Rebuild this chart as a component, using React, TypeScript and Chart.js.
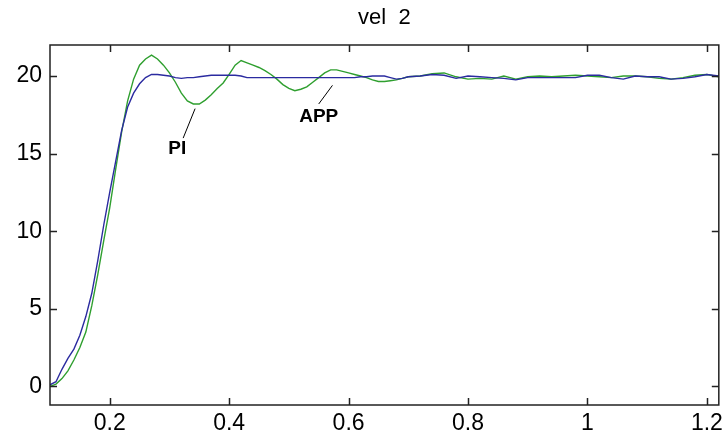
import React, { useEffect, useRef } from "react";
import { Chart, registerables } from "chart.js";

Chart.register(...registerables);

const chartTitle = "vel  2";

const time = [
  0.10, 0.11, 0.12, 0.13, 0.14, 0.15, 0.16, 0.17, 0.18, 0.19,
  0.20, 0.21, 0.22, 0.23, 0.24, 0.25, 0.26, 0.27, 0.28, 0.29,
  0.30, 0.31, 0.32, 0.33, 0.34, 0.35, 0.36, 0.37, 0.38, 0.39,
  0.40, 0.41, 0.42, 0.43, 0.44, 0.45, 0.46, 0.47, 0.48, 0.49,
  0.50, 0.51, 0.52, 0.53, 0.54, 0.55, 0.56, 0.57, 0.58, 0.59,
  0.60, 0.61, 0.62, 0.63, 0.64, 0.65, 0.66, 0.67, 0.68, 0.69,
  0.70, 0.72, 0.74, 0.76, 0.78, 0.80, 0.82, 0.84, 0.86, 0.88,
  0.90, 0.92, 0.94, 0.96, 0.98, 1.00, 1.02, 1.04, 1.06, 1.08,
  1.10, 1.12, 1.14, 1.16, 1.18, 1.20, 1.22,
];

const appValues = [
  0.1, 0.3, 1.1, 1.8, 2.4, 3.3, 4.5, 6.0, 8.1, 10.4,
  12.5, 14.5, 16.5, 18.0, 18.9, 19.5, 19.9, 20.1, 20.1, 20.05,
  20.0, 19.9, 19.85, 19.9, 19.9, 19.95, 20.0, 20.05, 20.05, 20.05,
  20.05, 20.05, 20.0, 19.9, 19.9, 19.9, 19.9, 19.9, 19.9, 19.9,
  19.9, 19.9, 19.9, 19.9, 19.9, 19.9, 19.9, 19.9, 19.9, 19.9,
  19.9, 19.9, 19.95, 19.95, 20.0, 20.0, 20.0, 19.9, 19.8, 19.85,
  19.95, 20.0, 20.1, 20.05, 19.85, 20.0, 19.95, 19.9, 19.85, 19.75,
  19.9, 19.9, 19.9, 19.9, 19.9, 20.05, 20.05, 19.9, 19.8, 20.0,
  19.95, 19.95, 19.8, 19.85, 19.95, 20.1, 20.0,
];

const piValues = [
  0.0, 0.15, 0.5, 1.0, 1.7, 2.5, 3.5, 5.2, 7.2, 9.4,
  11.5, 14.0, 16.4, 18.4, 19.8, 20.7, 21.1, 21.35, 21.1, 20.7,
  20.2, 19.6, 18.9, 18.4, 18.2, 18.2, 18.45, 18.8, 19.2, 19.55,
  20.1, 20.7, 21.0, 20.85, 20.7, 20.55, 20.35, 20.1, 19.8, 19.45,
  19.2, 19.05, 19.15, 19.3, 19.6, 19.9, 20.2, 20.4, 20.4, 20.3,
  20.2, 20.1, 20.0, 19.9, 19.75, 19.65, 19.65, 19.7, 19.75, 19.85,
  19.95, 20.0, 20.15, 20.2, 19.95, 19.8, 19.85, 19.8, 20.0, 19.8,
  19.95, 20.0, 19.95, 20.0, 20.05, 20.0, 19.95, 19.9, 20.0, 20.0,
  19.95, 19.85, 19.8, 19.9, 20.05, 20.1, 19.95,
];

const xTickValues = [0.2, 0.4, 0.6, 0.8, 1.0, 1.2];
const xTickLabels = ["0.2", "0.4", "0.6", "0.8", "1", "1.2"];
const yTickValues = [0, 5, 10, 15, 20];
const yTickLabels = ["0", "5", "10", "15", "20"];

// annotation text & leader lines, in data coordinates
const annotationLabels = ["PI", "APP"];
const annotationTextX = [0.313, 0.55];
const annotationTextY = [15.3, 17.4];
const leaderFromX = [0.323, 0.55];
const leaderFromY = [16.0, 18.2];
const leaderToX = [0.343, 0.573];
const leaderToY = [17.9, 19.4];

const FONT = "'Liberation Sans', Arial, Helvetica, sans-serif";
const TICK_SIZE = 23;

const matlabBox = {
  id: "matlabBox",
  afterDatasetsDraw(chart: any) {
    const { ctx, chartArea: a, scales } = chart;
    const xs = scales.x;
    const ys = scales.y;
    ctx.save();
    ctx.strokeStyle = "#222";
    ctx.lineWidth = 1.5;
    ctx.strokeRect(a.left, a.top, a.right - a.left, a.bottom - a.top);
    const L = 7;
    ctx.beginPath();
    for (const v of xTickValues) {
      const px = Math.round(xs.getPixelForValue(v)) + 0.5;
      ctx.moveTo(px, a.bottom);
      ctx.lineTo(px, a.bottom - L);
      ctx.moveTo(px, a.top);
      ctx.lineTo(px, a.top + L);
    }
    for (const v of yTickValues) {
      const py = Math.round(ys.getPixelForValue(v)) + 0.5;
      ctx.moveTo(a.left, py);
      ctx.lineTo(a.left + L, py);
      ctx.moveTo(a.right, py);
      ctx.lineTo(a.right - L, py);
    }
    ctx.stroke();

    ctx.lineWidth = 1;
    ctx.strokeStyle = "#000";
    ctx.beginPath();
    for (let i = 0; i < annotationLabels.length; i++) {
      ctx.moveTo(xs.getPixelForValue(leaderFromX[i]), ys.getPixelForValue(leaderFromY[i]));
      ctx.lineTo(xs.getPixelForValue(leaderToX[i]), ys.getPixelForValue(leaderToY[i]));
    }
    ctx.stroke();
    ctx.fillStyle = "#000";
    ctx.font = "bold 19px " + FONT;
    ctx.textAlign = "center";
    ctx.textBaseline = "middle";
    for (let i = 0; i < annotationLabels.length; i++) {
      ctx.fillText(
        annotationLabels[i],
        xs.getPixelForValue(annotationTextX[i]),
        ys.getPixelForValue(annotationTextY[i])
      );
    }

    // title centred over the axes, MATLAB style
    ctx.font = "22px " + FONT;
    ctx.textBaseline = "middle";
    ctx.fillText(chartTitle, (a.left + a.right) / 2, 18);
    ctx.restore();
  },
};

export default function App() {
  const canvasRef = useRef<HTMLCanvasElement | null>(null);

  useEffect(() => {
    document.body.style.margin = "0";
    const canvas = canvasRef.current;
    if (!canvas) return;
    const chart = new Chart(canvas, {
      type: "line",
      data: {
        datasets: [
          {
            label: "APP",
            data: time.map((t, i) => ({ x: t, y: appValues[i] })),
            borderColor: "#2b2ba0",
            borderWidth: 1.4,
            pointRadius: 0,
            tension: 0,
          },
          {
            label: "PI",
            data: time.map((t, i) => ({ x: t, y: piValues[i] })),
            borderColor: "#2f9f2f",
            borderWidth: 1.4,
            pointRadius: 0,
            tension: 0,
          },
        ],
      },
      options: {
        animation: false,
        responsive: false,
        devicePixelRatio: 1,
        layout: { padding: { left: 0, right: 8, top: 45, bottom: 0 } },
        plugins: {
          legend: { display: false },
          tooltip: { enabled: false },
          title: { display: false },
        },
        scales: {
          x: {
            type: "linear",
            min: 0.1,
            max: 1.22,
            afterBuildTicks: (scale: any) => {
              scale.ticks = xTickValues.map((v) => ({ value: v }));
            },
            afterFit: (scale: any) => {
              scale.height = 31;
            },
            grid: { display: false, drawTicks: false },
            border: { display: false },
            ticks: {
              color: "#000",
              padding: 5,
              maxRotation: 0,
              autoSkip: false,
              font: { family: FONT, size: TICK_SIZE },
              callback: (v: any) => {
                const i = xTickValues.findIndex((t) => Math.abs(t - Number(v)) < 1e-9);
                return i >= 0 ? xTickLabels[i] : "";
              },
            },
          },
          y: {
            type: "linear",
            min: -1.2,
            max: 22,
            afterBuildTicks: (scale: any) => {
              scale.ticks = yTickValues.map((v) => ({ value: v }));
            },
            afterFit: (scale: any) => {
              scale.width = 50;
            },
            grid: { display: false, drawTicks: false },
            border: { display: false },
            ticks: {
              color: "#000",
              padding: 8,
              autoSkip: false,
              font: { family: FONT, size: TICK_SIZE },
              callback: (v: any) => {
                const i = yTickValues.findIndex((t) => Math.abs(t - Number(v)) < 1e-9);
                return i >= 0 ? yTickLabels[i] : "";
              },
            },
          },
        },
      },
      plugins: [matlabBox],
    });
    return () => chart.destroy();
  }, []);

  return (
    <div style={{ width: 728, height: 436 }}>
      <canvas ref={canvasRef} width={728} height={436} style={{ display: "block" }} />
    </div>
  );
}
